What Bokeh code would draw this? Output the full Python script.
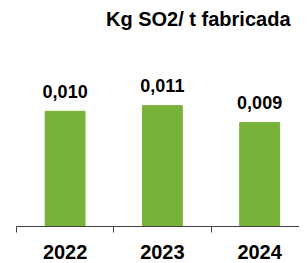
from bokeh.plotting import figure
from bokeh.models import Range1d, FixedTicker, ColumnDataSource
from bokeh.core.properties import value
from bokeh.embed import file_html
from bokeh.resources import INLINE

years = ["2022", "2023", "2024"]
values = [0.0102, 0.0107, 0.0092]
labels = ["0,010", "0,011", "0,009"]

xs = [i + 0.5 for i in range(len(years))]
src = ColumnDataSource(dict(x=xs, top=values, label=labels))

p = figure(width=299, height=261, output_backend="svg", toolbar_location=None,
           x_range=Range1d(0, 2.91), y_range=Range1d(0, 0.0170),
           min_border_left=16, min_border_right=0, min_border_top=3, min_border_bottom=0)

p.title.text = "Kg SO2/ t fabricada"
p.title.align = "right"
p.title.text_font = "Liberation Sans"
p.title.text_font_size = "20px"
p.title.text_font_style = "bold"
p.title.text_color = "black"
p.title.offset = 9

p.vbar(x="x", top="top", width=0.41, bottom=0, source=src, color="#78B23A")
p.text(x="x", y="top", text="label", source=src, text_align="center",
       text_baseline="alphabetic", y_offset=-20, text_font=value("Liberation Sans"),
       text_font_style="bold", text_font_size="18px", text_color="black")

p.yaxis.visible = False
p.xaxis.ticker = FixedTicker(ticks=xs, minor_ticks=[float(i) for i in range(len(years) + 1)])
p.xaxis.major_label_overrides = {x: y for x, y in zip(xs, years)}
p.xaxis.major_tick_out = 0
p.xaxis.major_tick_in = 0
p.xaxis.minor_tick_out = 6
p.xaxis.minor_tick_in = 0
p.xaxis.minor_tick_line_color = "#404040"
p.xaxis.axis_line_color = "#404040"
p.xaxis.major_label_text_font = "Liberation Sans"
p.xaxis.major_label_text_font_size = "20px"
p.xaxis.major_label_text_font_style = "bold"
p.xaxis.major_label_text_color = "black"
p.xaxis.major_label_text_line_height = 0.8
p.xaxis.major_label_standoff = 12

p.xgrid.visible = False
p.ygrid.visible = False
p.outline_line_color = None

open("out.html", "w").write(file_html(p, INLINE))
